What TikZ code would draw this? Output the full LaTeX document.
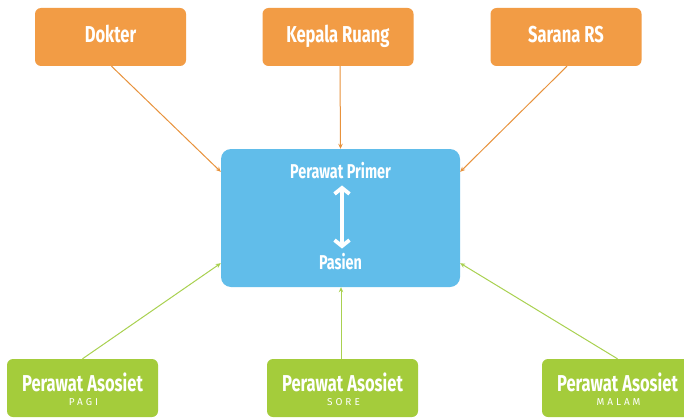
\documentclass[tikz,border=0pt]{standalone}
\usepackage{fontspec}
\usetikzlibrary{arrows.meta,calc}
\newfontfamily\headfont[FakeStretch=0.72]{Fira Sans}
\newfontfamily\capsfont[LetterSpace=30]{Fira Sans}
\definecolor{topfill}{HTML}{F29C45}
\definecolor{toplink}{HTML}{E8923C}
\definecolor{midfill}{HTML}{61BDEA}
\definecolor{lowfill}{HTML}{A4CC3B}
\definecolor{lowlink}{HTML}{A9D150}
\tikzset{
  topbox/.style={fill=topfill, rounded corners=6pt, minimum width=151pt, minimum height=58pt,
    text=white, font=\headfont\bfseries\fontsize{23}{26}\selectfont, inner sep=0pt},
  lowbox/.style={fill=lowfill, rounded corners=6pt, minimum width=151pt, minimum height=58pt, inner sep=0pt},
  midbox/.style={fill=midfill, rounded corners=10pt, minimum width=239pt, minimum height=138pt, inner sep=0pt},
  toparrow/.style={draw=toplink, line width=1pt, -{Stealth[length=5pt,width=4.5pt]}},
  lowarrow/.style={draw=lowlink, line width=1pt, -{Stealth[length=5pt,width=4.5pt]}},
  bigtext/.style={text=white, font=\headfont\bfseries\fontsize{20}{23}\selectfont, inner sep=0pt},
  lowtext/.style={text=white, font=\headfont\bfseries\fontsize{23}{26}\selectfont, inner sep=0pt},
  shifttext/.style={text=white, font=\capsfont\fontsize{10}{12}\selectfont, inner sep=0pt},
}
\begin{document}
\begin{tikzpicture}[x=1pt,y=-1pt]
\useasboundingbox (0,0) rectangle (684,417);
\clip (0,0) rectangle (684,417);
\fill[white] (0,0) rectangle (684,417);

% upper row
\node[topbox] (dok) at (110.5,37) {\raisebox{6pt}{Dokter}};
\node[topbox] (kep) at (338,37) {\raisebox{6pt}{Kepala Ruang}};
\node[topbox] (sar) at (566,37) {\raisebox{6pt}{Sarana RS}};

% central block
\node[midbox] (pri) at (340.5,218) {};
\node[bigtext] (prim) at (340.5,171) {Perawat Primer};
\node[bigtext] (pas) at (340.5,262) {Pasien};
\draw[white, line width=3.8pt, {Straight Barb[length=6pt,width=15pt]}-{Straight Barb[length=6pt,width=15pt]}]
  ($(prim.south)+(1.5,6)$) -- ($(pas.north)+(1.5,-5)$);

% lower row
\node[lowbox] (pagi) at (82.5,388) {};
\node[lowbox] (sore) at (342.5,388) {};
\node[lowbox] (malam) at (617.5,388) {};
\foreach \b/\t in {pagi/PAGI, sore/SORE, malam/MALAM}{
  \node[lowtext] (\b h) at ($(\b.center)+(0,-6)$) {Perawat Asosiet};
  \node[shifttext] (\b s) at ($(\b.center)+(1,14)$) {\t};
}

% links into the central block
\draw[toparrow] ($(dok.south)+(1,0)$) -- ($(pri.north west)+(0,23)$);
\draw[toparrow] ($(kep.south)+(2,0)$) -- ($(pri.north)+(0,0)$);
\draw[toparrow] ($(sar.south)+(1,0)$) -- ($(pri.north east)+(0,23)$);
\draw[lowarrow] (pagi.north) -- ($(pri.south west)+(0,-24)$);
\draw[lowarrow] ($(sore.north)+(-1.5,0)$) -- ($(pri.south)+(0.5,0)$);
\draw[lowarrow] (malam.north) -- ($(pri.south east)+(0,-24)$);
\end{tikzpicture}
\end{document}
